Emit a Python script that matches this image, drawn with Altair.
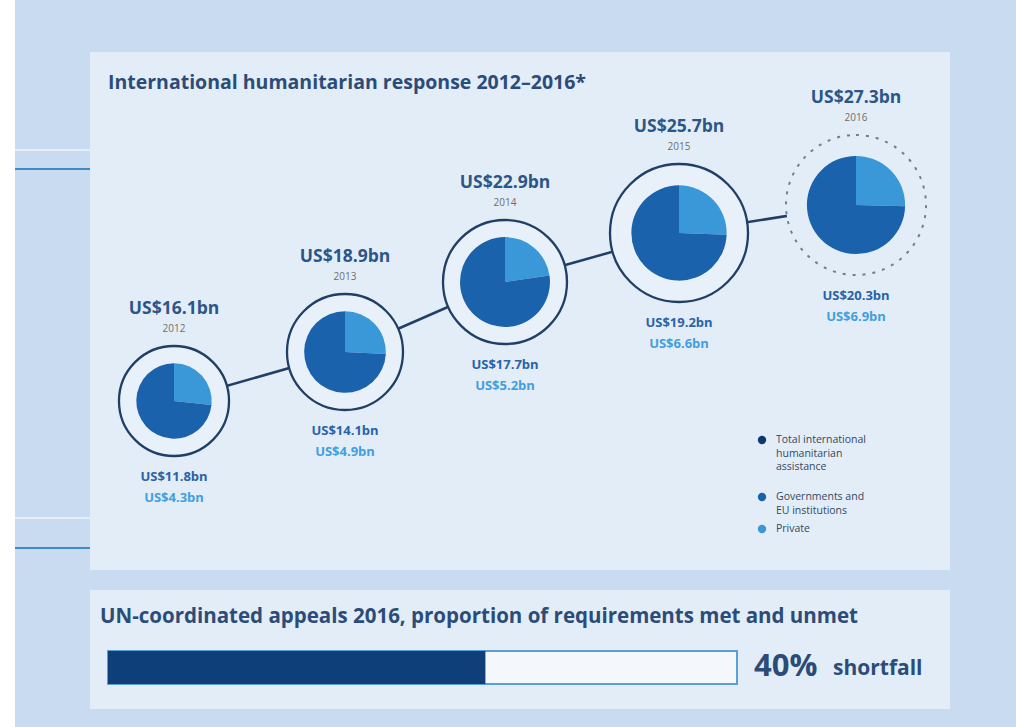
import math
import altair as alt
import pandas as pd

W, H = 1016, 727

# ---------------- data ----------------
years = [2012, 2013, 2014, 2015, 2016]
total = [16.1, 18.9, 22.9, 25.7, 27.3]
governments = [11.8, 14.1, 17.7, 19.2, 20.3]
private = [4.3, 4.9, 5.2, 6.6, 6.9]
appeals_met_pct = 60
appeals_shortfall_pct = 40

legend_items = [
    ["Total international", "humanitarian", "assistance"],
    ["Governments and", "EU institutions"],
    ["Private"],
]

# ---------------- layout (pixels) ----------------
cx_px = [174, 345, 505, 679, 856]          # pie centre per year
cy_px = [401, 205]                          # pie centre for min / max total
ring_r = [55, 58, 62, 69, 70]               # outer ring radius
pie_r_max = 49.1                            # pie radius for the largest total
PX_PER_BN = (cy_px[0] - cy_px[1]) / (max(total) - min(total))

PAGE = "#c8dbf0"
PANEL = "#e3edf8"
NAVY = "#203f66"
TOTAL_C = "#0f3a6e"
GOV_C = "#1a62ab"
PRIV_C = "#3a98d8"
TITLE_C = "#2b4c78"
FONT = "Open Sans"

xs_year = alt.Scale(domain=years, range=cx_px, zero=False, nice=False)
ys_total = alt.Scale(domain=[min(total), max(total)], range=cy_px, zero=False, nice=False)


def px(field):
    return alt.X(field, type="quantitative", scale=None, axis=None)


def py(field):
    return alt.Y(field, type="quantitative", scale=None, axis=None)


# ---------------- backgrounds ----------------
rects = pd.DataFrame([
    dict(x=0, x2=15, y=0, y2=H, c="#ffffff"),
    dict(x=90, x2=950, y=52, y2=570, c=PANEL),
    dict(x=90, x2=950, y=590, y2=709, c=PANEL),
])
bg = alt.Chart(rects).mark_rect().encode(
    x=px("x"), x2="x2", y=py("y"), y2="y2",
    color=alt.Color("c:N", scale=None),
)

side = pd.DataFrame([
    dict(x=15, x2=90, y=150, c="#eef5fc", w=1.5),
    dict(x=15, x2=90, y=169, c="#3f8bc6", w=2),
    dict(x=15, x2=90, y=518, c="#eef5fc", w=1.5),
    dict(x=15, x2=90, y=548, c="#3f8bc6", w=2),
])
side_lines = alt.Chart(side).mark_rule().encode(
    x=px("x"), x2="x2", y=py("y"),
    color=alt.Color("c:N", scale=None),
    strokeWidth=alt.StrokeWidth("w:Q", scale=None),
)

# ---------------- pies ----------------
df = pd.DataFrame(dict(year=years, total=total, gov=governments, priv=private, ring=ring_r))
df["top_lbl"] = [f"US${v}bn" for v in total]
df["year_lbl"] = [str(y) for y in years]
df["gov_lbl"] = [f"US${v}bn" for v in governments]
df["priv_lbl"] = [f"US${v}bn" for v in private]
df["y_top"] = df["total"] + (df["ring"] + 37) / PX_PER_BN
df["y_year"] = df["total"] + (df["ring"] + 17) / PX_PER_BN
df["y_gov"] = df["total"] - (df["ring"] + 21) / PX_PER_BN
df["y_priv"] = df["total"] - (df["ring"] + 42) / PX_PER_BN

line = alt.Chart(df).mark_line(color=NAVY, strokeWidth=2.5).encode(
    x=alt.X("year:Q", scale=xs_year, axis=None),
    y=alt.Y("total:Q", scale=ys_total, axis=None),
)

solid = df[df["year"] != 2016]
dotted = df[df["year"] == 2016]

rings = alt.Chart(solid).mark_arc(
    theta=0, theta2=2 * math.pi, fill="#e8f1fa", stroke=NAVY, strokeWidth=2.3
).encode(
    x=alt.X("year:Q", scale=xs_year, axis=None),
    y=alt.Y("total:Q", scale=ys_total, axis=None),
    radius=alt.Radius("ring:Q", scale=None, stack=None),
)
ring_dot = alt.Chart(dotted).mark_arc(
    theta=0, theta2=2 * math.pi, fill=PANEL, stroke="#6f7f93",
    strokeWidth=2, strokeDash=[3, 7]
).encode(
    x=alt.X("year:Q", scale=xs_year, axis=None),
    y=alt.Y("total:Q", scale=ys_total, axis=None),
    radius=alt.Radius("ring:Q", scale=None, stack=None),
)

rows = []
for y, t, g, p in zip(years, total, governments, private):
    f = p / (g + p)
    rows.append(dict(year=y, total=t, part="Private", t0=0.0, t1=2 * math.pi * f, c=PRIV_C))
    rows.append(dict(year=y, total=t, part="Governments", t0=2 * math.pi * f, t1=2 * math.pi, c=GOV_C))
pie_df = pd.DataFrame(rows)

pies = alt.Chart(pie_df).mark_arc().encode(
    x=alt.X("year:Q", scale=xs_year, axis=None),
    y=alt.Y("total:Q", scale=ys_total, axis=None),
    theta=alt.Theta("t0:Q", scale=None, stack=None),
    theta2=alt.Theta2("t1:Q"),
    radius=alt.Radius("total:Q", stack=None,
                      scale=alt.Scale(type="sqrt", domain=[0, max(total)],
                                      range=[0, pie_r_max], zero=True)),
    color=alt.Color("c:N", scale=None),
)


def pie_text(field, yfield, size, color, weight="bold"):
    return alt.Chart(df).mark_text(
        font=FONT, fontSize=size, fontWeight=weight, color=color,
        align="center", baseline="middle"
    ).encode(
        x=alt.X("year:Q", scale=xs_year, axis=None),
        y=alt.Y(f"{yfield}:Q", scale=ys_total, axis=None),
        text=f"{field}:N",
    )


t_top = pie_text("top_lbl", "y_top", 17.5, "#2b5688")
t_year = pie_text("year_lbl", "y_year", 10, "#6e6e6e", "normal")
t_gov = pie_text("gov_lbl", "y_gov", 13, "#2a62a8")
t_priv = pie_text("priv_lbl", "y_priv", 13, "#3f9fe0")

# ---------------- titles ----------------
titles = pd.DataFrame([
    dict(x=108, y=83, t="International humanitarian response 2012\u20132016*", s=19.5),
    dict(x=100, y=617, t="UN-coordinated appeals 2016, proportion of requirements met and unmet", s=20.5),
])
title_text = alt.Chart(titles).mark_text(
    font=FONT, fontWeight="bold", color=TITLE_C, align="left", baseline="middle"
).encode(
    x=px("x"), y=py("y"), text="t:N", size=alt.Size("s:Q", scale=None),
)

# ---------------- legend ----------------
leg_rows, dot_rows = [], []
leg_y = [440, 497, 529]
leg_cols = [TOTAL_C, GOV_C, PRIV_C]
for lines, y0, c in zip(legend_items, leg_y, leg_cols):
    dot_rows.append(dict(x=762, y=y0, c=c))
    for i, s in enumerate(lines):
        leg_rows.append(dict(x=776, y=y0 + i * 13.5, t=s))
leg_dots = alt.Chart(pd.DataFrame(dot_rows)).mark_circle(size=70, opacity=1).encode(
    x=px("x"), y=py("y"), color=alt.Color("c:N", scale=None),
)
leg_text = alt.Chart(pd.DataFrame(leg_rows)).mark_text(
    font=FONT, fontSize=10.5, color="#34485f", align="left", baseline="middle"
).encode(x=px("x"), y=py("y"), text="t:N")

# ---------------- appeals bar ----------------
bar_scale = alt.Scale(domain=[0, 100], range=[108, 737], zero=False, nice=False)
bar_df = pd.DataFrame([
    dict(a=0, b=100, c="#f4f8fd"),
    dict(a=0, b=appeals_met_pct, c="#0e3f78"),
])
bar_bg = alt.Chart(bar_df.iloc[[0]]).mark_rect(stroke="#5aa0d6", strokeWidth=2).encode(
    x=alt.X("a:Q", scale=bar_scale, axis=None), x2="b:Q",
    y=alt.value(651), y2=alt.value(684),
    color=alt.Color("c:N", scale=None),
)
bar_met = alt.Chart(bar_df.iloc[[1]]).mark_rect().encode(
    x=alt.X("a:Q", scale=bar_scale, axis=None), x2="b:Q",
    y=alt.value(651), y2=alt.value(684),
    color=alt.Color("c:N", scale=None),
)
sf = pd.DataFrame([
    dict(x=754, y=667, t=f"{appeals_shortfall_pct}%", s=31),
    dict(x=833, y=669, t="shortfall", s=21),
])
sf_text = alt.Chart(sf).mark_text(
    font=FONT, fontWeight="bold", color=TITLE_C, align="left", baseline="middle"
).encode(x=px("x"), y=py("y"), text="t:N", size=alt.Size("s:Q", scale=None))

chart = alt.layer(
    bg, side_lines, line, rings, ring_dot, pies,
    t_top, t_year, t_gov, t_priv, title_text, leg_dots, leg_text,
    bar_bg, bar_met, sf_text,
).resolve_scale(
    x="independent", y="independent", radius="independent",
    theta="independent", color="independent", size="independent",
).properties(
    width=W, height=H, background=PAGE, padding=0,
    autosize=alt.AutoSizeParams(type="none"),
).configure_view(stroke=None)

chart.save("out.html", embed_options={"renderer": "svg", "actions": False})
